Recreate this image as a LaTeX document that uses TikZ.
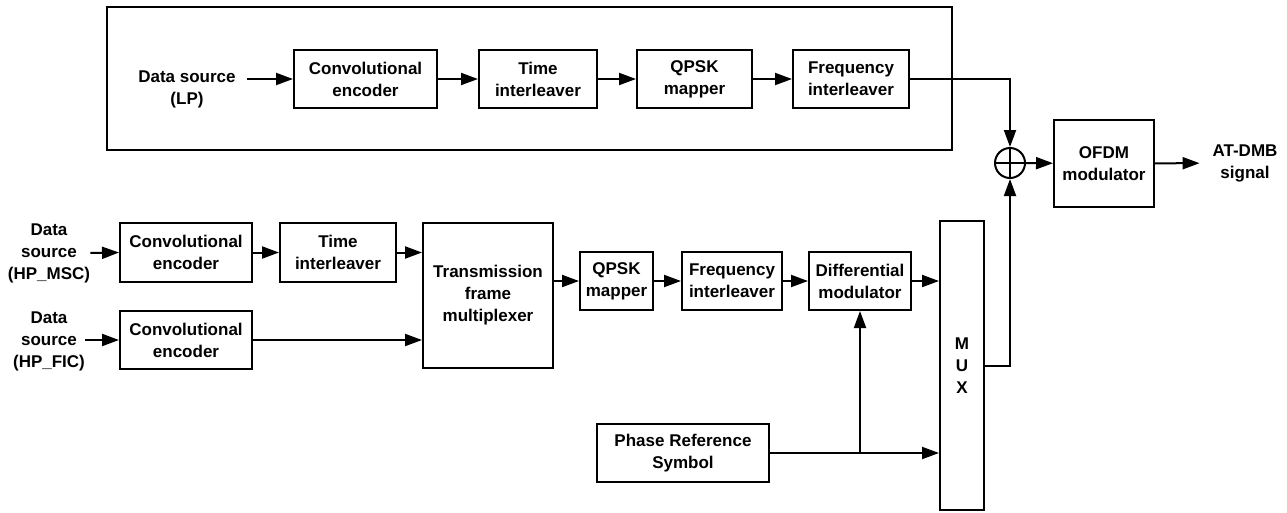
\documentclass[tikz,border=0pt]{standalone}
\usepackage{fontspec}
\setmainfont{Liberation Sans}
\usetikzlibrary{arrows.meta}
\begin{document}
\begin{tikzpicture}[x=1pt,y=-1pt,
  font=\fontsize{17}{22}\selectfont\bfseries,
  block/.style={draw,line width=2pt,inner sep=0pt,align=center},
  label/.style={inner sep=0pt,align=center},
  arr/.style={line width=2pt,-{Triangle[length=17pt,width=12pt]}},
  wire/.style={line width=2pt}]
\useasboundingbox (0,0) rectangle (1287,512);

% low-priority branch, framed
\draw[line width=1.8pt] (107,7) rectangle (952,150);
\node[label] (lp) at (187,89) {Data source\\(LP)};
\node[block,minimum width=143pt,minimum height=58pt] (conv1) at (365.5,79) {Convolutional\\encoder};
\node[block,minimum width=118pt,minimum height=58pt] (ti1) at (538,79) {Time\\interleaver};
\node[block,minimum width=115pt,minimum height=58pt] (qpsk1) at (694.5,79) {QPSK\\mapper};
\node[block,minimum width=116pt,minimum height=58pt] (fi1) at (851,79) {Frequency\\interleaver};

% combiner and output stage
\node[draw,circle,line width=2pt,minimum size=30pt,inner sep=0pt] (sum) at (1010,163) {};
\draw[wire] (sum.north) -- (sum.south) (sum.west) -- (sum.east);
\node[block,minimum width=100pt,minimum height=87pt] (ofdm) at (1104,163.5) {OFDM\\modulator};
\node[label,outer xsep=13pt] (out) at (1245,163) {AT-DMB\\signal};

% high-priority branches
\node[label] (msc) at (49,253) {Data\\source\\(HP\_MSC)};
\node[block,minimum width=132pt,minimum height=59pt] (conv2) at (186,252.5) {Convolutional\\encoder};
\node[block,minimum width=116pt,minimum height=59pt] (ti2) at (338,252.5) {Time\\interleaver};
\node[label] (fic) at (49,341) {Data\\source\\(HP\_FIC)};
\node[block,minimum width=132pt,minimum height=58pt] (conv3) at (186,340) {Convolutional\\encoder};
\node[block,minimum width=130pt,minimum height=145pt] (tfm) at (488,295.5) {Transmission\\frame\\multiplexer};
\node[block,minimum width=73pt,minimum height=58pt] (qpsk2) at (616.5,281) {QPSK\\mapper};
\node[block,minimum width=100pt,minimum height=58pt] (fi2) at (732,281) {Frequency\\interleaver};
\node[block,minimum width=102pt,minimum height=58pt] (dm) at (860,281) {Differential\\modulator};
\node[block,minimum width=44pt,minimum height=289pt] (mux) at (962,365.5) {M\\U\\X};
\node[block,minimum width=172pt,minimum height=58pt] (prs) at (683,453) {Phase Reference\\Symbol};
\coordinate (tap) at (dm.south |- prs.east);

% connectors, top row
\draw[arr] ([xshift=11pt]lp.east |- conv1.west) -- (conv1.west);
\draw[arr] (conv1) -- (ti1);
\draw[arr] (ti1) -- (qpsk1);
\draw[arr] (qpsk1) -- (fi1);
\draw[arr] (fi1.east) -| (sum.north);
\draw[arr] (sum) -- (ofdm);
\draw[arr] (ofdm) -- (out);

% connectors, bottom rows
\draw[arr] (msc.east) -- (conv2.west);
\draw[arr] (conv2) -- (ti2);
\draw[arr] (ti2.east) -- (ti2.east -| tfm.west);
\draw[arr] (fic.east |- conv3.west) -- (conv3.west);
\draw[arr] (conv3.east) -- (conv3.east -| tfm.west);
\draw[arr] (tfm.east |- qpsk2.west) -- (qpsk2.west);
\draw[arr] (qpsk2) -- (fi2);
\draw[arr] (fi2) -- (dm);
\draw[arr] (dm.east) -- (dm.east -| mux.west);
\draw[arr] (prs.east) -- (prs.east -| mux.west);
\draw[arr] (tap) -- (dm.south);
\draw[arr] (mux.east) -| (sum.south);
\end{tikzpicture}
\end{document}
